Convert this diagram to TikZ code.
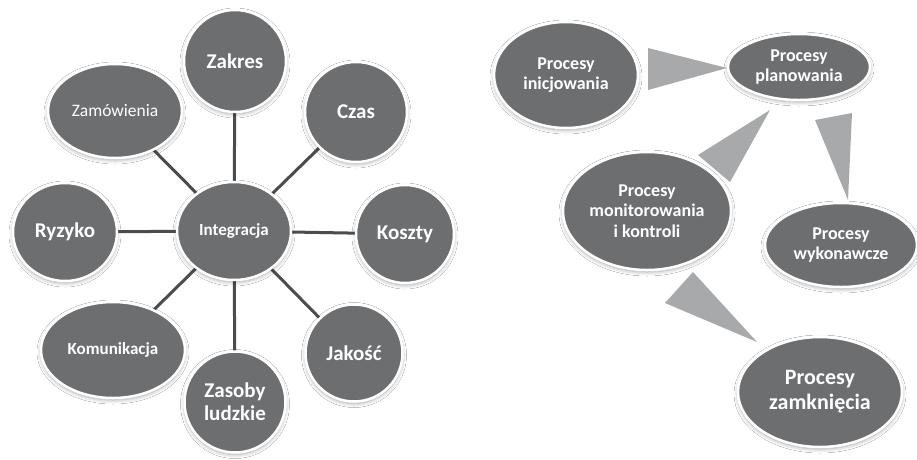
\documentclass[tikz,border=0pt]{standalone}
\usepackage{fontspec}
\setmainfont{Carlito}
\usetikzlibrary{shapes.geometric,shadows.blur}
\definecolor{bubble}{HTML}{6C6E70}
\definecolor{spoke}{HTML}{4B4C4E}
\definecolor{wedge}{HTML}{A7A9AB}
\begin{document}
\begin{tikzpicture}[x=1pt,y=-1pt,
  bub/.style={ellipse,fill=bubble,draw=white,line width=2.5pt,inner sep=0pt,
    text=white,align=center,font=\bfseries,
    blur shadow={shadow xshift=0pt,shadow yshift=-2pt,shadow blur steps=6,shadow opacity=35,shadow blur radius=4pt}},
  big/.style={font=\fontsize{21}{23}\selectfont\bfseries},
  small/.style={font=\fontsize{17}{19}\selectfont\bfseries},
  thin/.style={font=\fontsize{17.5}{19}\selectfont},
  proc/.style={font=\fontsize{18}{20.5}\selectfont\bfseries},
  spk/.style={draw=spoke,line width=3pt},
  wdg/.style={fill=wedge,draw=none}]
\fill[white] (0,0) rectangle (917,459);
\useasboundingbox (0,0) rectangle (917,459);
% ---------- left diagram: centres
\coordinate (cint) at (234,231);
\coordinate (czak) at (235,61);
\coordinate (cczas) at (356,112);
\coordinate (ckosz) at (405,234);
\coordinate (cjak) at (354,353);
\coordinate (czas2) at (235,402);
\coordinate (ckom) at (113,350);
\coordinate (cryz) at (65,232);
\coordinate (czam) at (115,111);
\foreach \n in {czak,cczas,ckosz,cjak,czas2,ckom,cryz,czam}{
  \draw[spk] (cint) -- (\n);
}
\node[bub,small,minimum width=114pt,minimum height=98pt] (int) at (cint) {Integracja};
\node[bub,big,minimum width=102pt,minimum height=102pt] (zak) at (czak) {Zakres};
\node[bub,big,minimum width=102pt,minimum height=100pt] (czas) at (cczas) {Czas};
\node[bub,big,minimum width=98pt,minimum height=98pt] (kosz) at (ckosz) {Koszty};
\node[bub,big,minimum width=97pt,minimum height=97pt] (jak) at (cjak) {Jakość};
\node[bub,big,minimum width=101pt,minimum height=101pt] (zas) at (czas2) {Zasoby\\ludzkie};
\node[bub,small,minimum width=144pt,minimum height=96pt] (kom) at (ckom) {Komunikacja};
\node[bub,big,minimum width=104pt,minimum height=98pt] (ryz) at (cryz) {Ryzyko};
\node[bub,thin,minimum width=134pt,minimum height=94pt] (zam) at (czam) {Zamówienia};
% ---------- right diagram: wedges (behind the bubbles)
\fill[wdg] (648,48) -- (648,90) -- (727,68) -- cycle;
\fill[wdg] (698,155) -- (730,182) -- (770,110) -- cycle;
\fill[wdg] (815,120) -- (852,113) -- (848,200) -- cycle;
\fill[wdg] (693,272) -- (665,303) -- (757,342) -- cycle;
\node[bub,proc,minimum width=144pt,minimum height=106pt] (ini) at (566,75) {Procesy\\inicjowania};
\node[bub,proc,minimum width=142pt,minimum height=66pt] (plan) at (799,67) {Procesy\\planowania};
\node[bub,proc,minimum width=168pt,minimum height=118pt] (mon) at (647,211) {Procesy\\monitorowania\\i kontroli};
\node[bub,proc,minimum width=152pt,minimum height=84pt] (wyk) at (841,245) {Procesy\\wykonawcze};
\node[bub,font=\fontsize{22}{25}\selectfont\bfseries,minimum width=164pt,minimum height=110pt] (zamk) at (820,392) {Procesy\\zamknięcia};
\end{tikzpicture}
\end{document}
